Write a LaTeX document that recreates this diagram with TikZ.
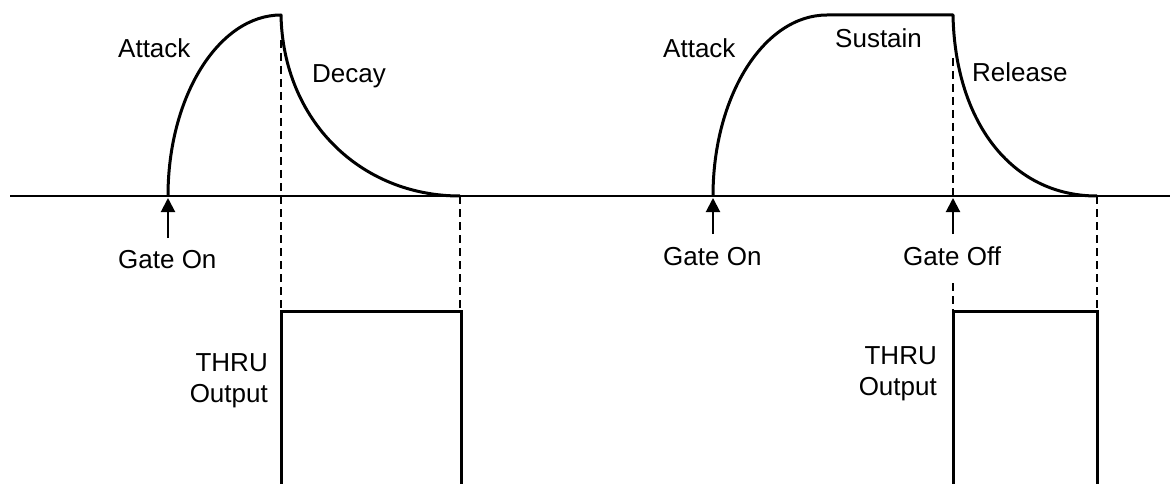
\documentclass[tikz,border=0pt]{standalone}
\usepackage{fontspec}
\setmainfont{Liberation Sans}
\usepackage{tikz}
\usetikzlibrary{calc}
\usetikzlibrary{arrows.meta}

\tikzset{
    env/.style={line width=3pt, line join=round},
    gateline/.style={line width=3pt},
    guide/.style={line width=1.8pt, dash pattern=on 8pt off 5pt},
    gatearrow/.style={line width=2pt, -{Triangle[length=14pt,width=14pt]}},
    lbl/.style={inner sep=0pt, font=\fontsize{26}{31}\selectfont},
}

\begin{document}
\begin{tikzpicture}[x=1pt, y=-1pt]
    \useasboundingbox (0,0) rectangle (1170,484);

    %time axis
    \coordinate (axisL) at (10,196);
    \coordinate (axisR) at (1170,196);
    \draw[line width=2pt] (axisL) -- (axisR);

    %attack-decay envelope
    \coordinate (adStart) at (168,196);
    \coordinate (adPeak) at (281,15);
    \coordinate (adEnd) at (460,196);
    \draw[env] (adStart) .. controls (168,96) and (219,15) .. (adPeak)
        .. controls (283,120) and (360,196) .. (adEnd);

    %attack-sustain-release envelope
    \coordinate (asrStart) at (713,196);
    \coordinate (asrTop) at (827,15);
    \coordinate (asrOff) at (953,15);
    \coordinate (asrEnd) at (1097,196);
    \draw[env] (asrStart) .. controls (713,96) and (764,15) .. (asrTop)
        -- (asrOff) .. controls (955,120) and (1010,196) .. (asrEnd);

    %thru output gates
    \coordinate (gateA1) at (281,484);
    \coordinate (gateA2) at (461,484);
    \draw[gateline] (gateA1) -- (281,311) -- (461,311) -- (gateA2);
    \coordinate (gateB1) at (953,484);
    \coordinate (gateB2) at (1097,484);
    \draw[gateline] (gateB1) -- (953,311) -- (1097,311) -- (gateB2);

    %guides
    \draw[guide] (281,40) -- (281,311);
    \draw[guide] (460,196) -- (460,311);
    \draw[guide] (953,58) -- (953,196);
    \draw[guide] (953,283) -- (953,311);
    \draw[guide] (1097,196) -- (1097,311);

    %gate events
    \coordinate (onAtail) at (168,238);
    \coordinate (onAtip) at (168,198);
    \draw[gatearrow] (onAtail) -- (onAtip);
    \coordinate (onBtail) at (713,234);
    \coordinate (onBtip) at (713,198);
    \draw[gatearrow] (onBtail) -- (onBtip);
    \coordinate (offBtail) at (953,234);
    \coordinate (offBtip) at (953,198);
    \draw[gatearrow] (offBtail) -- (offBtip);

    %labels
    \node[lbl, anchor=base west] (attackA) at (118,58) {Attack};
    \node[lbl, anchor=base west] (decayA) at (312,83) {Decay};
    \node[lbl, anchor=base west] (gateOnA) at (118,268) {Gate On};
    \node[lbl, anchor=base west] (attackB) at (663,58) {Attack};
    \node[lbl, anchor=base west] (sustainB) at (835,48) {Sustain};
    \node[lbl, anchor=base west] (releaseB) at (972,82) {Release};
    \node[lbl, anchor=base west] (gateOnB) at (663,265) {Gate On};
    \node[lbl, anchor=base west] (gateOffB) at (903,265) {Gate Off};
    \node[lbl, anchor=base east, align=right] (thruA) at (268,402) {THRU\\Output};
    \node[lbl, anchor=base east, align=right] (thruB) at (937,395) {THRU\\Output};
\end{tikzpicture}
\end{document}
